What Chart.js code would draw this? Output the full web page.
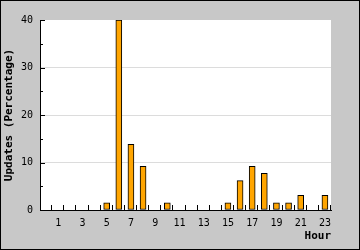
<!DOCTYPE html>
<html>
<head>
<meta charset="utf-8">
<script src="https://cdn.jsdelivr.net/npm/chart.js@4/dist/chart.umd.min.js"></script>
<style>
  html, body { margin: 0; padding: 0; background: #c8c8c8; }
  canvas { display: block; }
</style>
</head>
<body>
<canvas id="chart" width="360" height="250"></canvas>
<script>
// ── Data ─────────────────────────────────────────────────────────────────────
const HOURS   = ['0','1','2','3','4','5','6','7','8','9','10','11',
                 '12','13','14','15','16','17','18','19','20','21','22','23'];
const UPDATES = [0, 0, 0, 0, 0, 1.5, 40, 13.8, 9.2, 0, 1.5, 0,
                 0, 0, 0, 1.5, 6.2, 9.2, 7.7, 1.5, 1.5, 3.1, 0, 3.1];
const Y_TICKS = [0, 10, 20, 30, 40];
const Y_MINOR = [5, 15, 25, 35];

const MONO = '"DejaVu Sans Mono", "Liberation Mono", monospace';

// ── Frame: grey page, black border, white plot area ─────────────────────────
const framePlugin = {
  id: 'frame',
  beforeDraw(chart) {
    const { ctx, width, height, chartArea: a } = chart;
    ctx.save();
    ctx.fillStyle = '#c8c8c8';
    ctx.fillRect(0, 0, width, height);
    ctx.strokeStyle = '#000';
    ctx.lineWidth = 1;
    ctx.strokeRect(0.5, 0.5, width - 1, height - 1);
    ctx.fillStyle = '#fff';
    ctx.fillRect(a.left, a.top, a.right - a.left, a.bottom - a.top);
    ctx.restore();
  }
};

// ── Inward tick marks on both axes ───────────────────────────────────────────
const tickPlugin = {
  id: 'inTicks',
  afterDatasetsDraw(chart) {
    const { ctx, chartArea: a, scales: { x, y } } = chart;
    ctx.save();
    ctx.strokeStyle = '#000';
    ctx.lineWidth = 1;
    ctx.beginPath();
    Y_TICKS.forEach(v => {
      const py = Math.round(y.getPixelForValue(v)) + 0.5;
      ctx.moveTo(a.left, py); ctx.lineTo(a.left + 5, py);
    });
    Y_MINOR.forEach(v => {
      const py = Math.round(y.getPixelForValue(v)) + 0.5;
      ctx.moveTo(a.left, py); ctx.lineTo(a.left + 3, py);
    });
    const half = (x.getPixelForValue(1) - x.getPixelForValue(0)) / 2;
    HOURS.forEach((h, i) => {
      const px = Math.round(x.getPixelForValue(i) + half) - 0.5;
      ctx.moveTo(px, a.bottom); ctx.lineTo(px, a.bottom - 5);
    });
    ctx.stroke();
    ctx.restore();
  }
};

// ── Chart ────────────────────────────────────────────────────────────────────
new Chart(document.getElementById('chart'), {
  type: 'bar',
  data: {
    labels: HOURS,
    datasets: [{
      data: UPDATES,
      backgroundColor: '#ffa500',
      borderColor: '#000',
      borderWidth: 1,
      borderSkipped: false,
      barThickness: 6
    }]
  },
  options: {
    responsive: false,
    devicePixelRatio: 1,
    animation: false,
    layout: { padding: { top: 20, right: 29, left: 0, bottom: 0 } },
    plugins: { legend: { display: false }, tooltip: { enabled: false } },
    scales: {
      x: {
        afterFit(s) { s.height = 40; },
        grid: { display: false, drawTicks: false },
        border: { display: true, color: '#000', width: 1 },
        ticks: {
          autoSkip: false, maxRotation: 0, padding: 7,
          color: '#000', font: { family: MONO, size: 10 },
          callback: (v, i) => (i % 2 ? HOURS[i] : '')
        },
        title: {
          display: true, text: 'Hour', align: 'end', color: '#000',
          font: { family: MONO, size: 11, weight: 'bold' },
          padding: { top: 0, bottom: 7 }
        }
      },
      y: {
        min: 0, max: 40,
        afterFit(s) { s.width = 40; },
        grid: {
          drawTicks: false,
          color: c => (c.tick && c.tick.value > 0 && c.tick.value < 40 ? '#dcdcdc' : 'rgba(0,0,0,0)')
        },
        border: { display: true, color: '#000', width: 1 },
        ticks: {
          stepSize: 10, padding: 7,
          color: '#000', font: { family: MONO, size: 10 }
        },
        title: {
          display: true, text: 'Updates (Percentage)', color: '#000',
          font: { family: MONO, size: 11, weight: 'bold' },
          padding: { top: 3, bottom: 0 }
        }
      }
    }
  },
  plugins: [framePlugin, tickPlugin]
});
</script>
</body>
</html>
